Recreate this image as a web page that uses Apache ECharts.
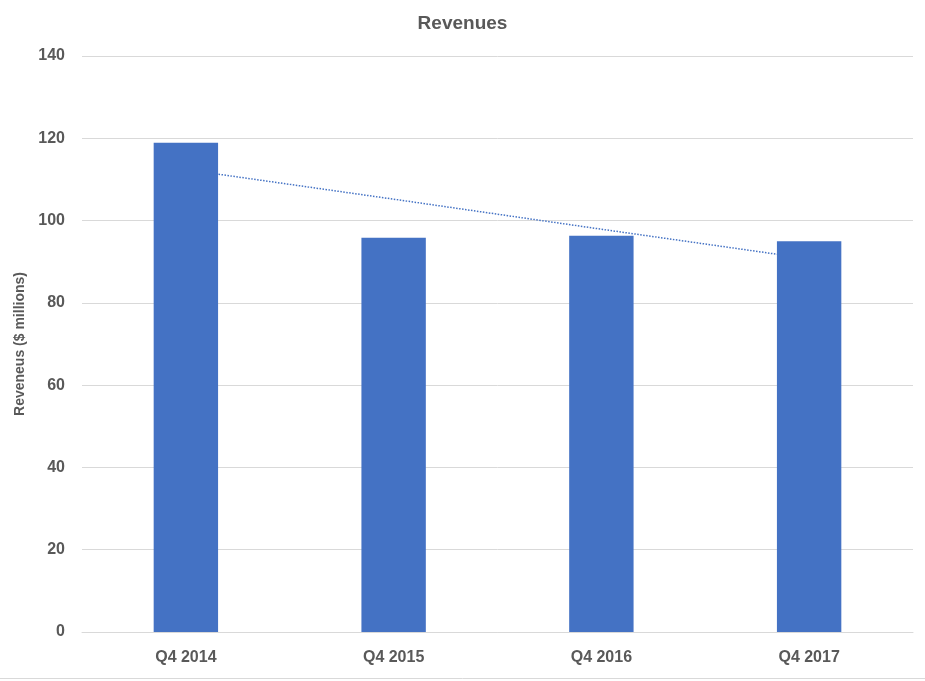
<!DOCTYPE html>
<html><head><meta charset="utf-8">
<script src="https://cdn.jsdelivr.net/npm/echarts@6/dist/echarts.min.js"></script>
<style>html,body{margin:0;padding:0;background:#fff}#c{width:925px;height:681px}</style>
</head><body><div id="c"></div>
<script>
const categories = ['Q4 2014', 'Q4 2015', 'Q4 2016', 'Q4 2017'];
const revenues = [118.9, 95.8, 96.3, 95.0];
const trendValues = [112.4, 105.2, 97.9, 90.7];
const yTicks = [0, 20, 40, 60, 80, 100, 120, 140];

const chart = echarts.init(document.getElementById('c'), null, {renderer: 'canvas'});
const txt = '#595959';
const font = 'Liberation Sans';
chart.setOption({
  animation: false,
  backgroundColor: '#fff',
  title: {
    text: 'Revenues', left: 'center', top: 9,
    textStyle: {color: txt, fontSize: 19, fontWeight: 'bold', fontFamily: font}
  },
  grid: {left: 82, right: 12, top: 56, bottom: 49},
  xAxis: {
    type: 'category', data: categories,
    axisLine: {show: true, lineStyle: {color: '#d9d9d9', width: 1}},
    axisTick: {show: false},
    axisLabel: {color: txt, fontSize: 16, fontWeight: 'bold', fontFamily: font, margin: 18}
  },
  yAxis: {
    type: 'value', min: yTicks[0], max: yTicks[yTicks.length - 1], interval: 20,
    name: 'Reveneus ($ millions)', nameLocation: 'middle', nameGap: 55, nameRotate: 90,
    nameTextStyle: {color: txt, fontSize: 14, fontWeight: 'bold', fontFamily: font},
    axisLine: {show: false}, axisTick: {show: false},
    splitLine: {lineStyle: {color: '#d9d9d9', width: 1}},
    axisLabel: {color: txt, fontSize: 16, fontWeight: 'bold', fontFamily: font, margin: 17}
  },
  series: [
    {
      type: 'line', data: trendValues, z: 1, symbol: 'none', silent: true,
      lineStyle: {color: '#4472C4', width: 1.5, type: [1.5, 1.5]}
    },
    {
      type: 'bar', data: revenues, z: 2, barWidth: '31%',
      itemStyle: {color: '#4472C4'}
    }
  ],
  graphic: [{
    type: 'line', shape: {x1: 0, y1: 678.5, x2: 925, y2: 678.5},
    style: {stroke: '#d9d9d9', lineWidth: 1}
  }]
});
</script></body></html>
